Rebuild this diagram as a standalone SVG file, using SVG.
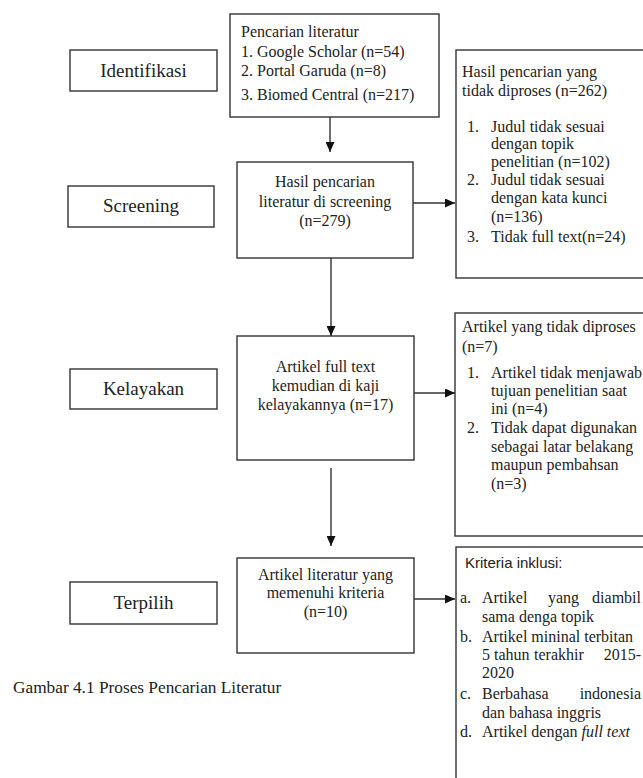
<svg xmlns="http://www.w3.org/2000/svg" width="643" height="778" viewBox="0 0 643 778">
<style>
.box{fill:#fff;stroke:#333;stroke-width:1.4}
.lbl{font-family:"Liberation Serif","Times New Roman",serif;font-size:19px;fill:#222;text-anchor:middle}
.t{font-family:"Liberation Serif","Times New Roman",serif;font-size:16px;fill:#222}
.c{text-anchor:middle}
.e{text-anchor:end}
.cap{font-family:"Liberation Serif","Times New Roman",serif;font-size:17.3px;fill:#222}
.sans{font-family:"Liberation Sans",Arial,sans-serif;font-size:15px;fill:#222}
.conn{stroke:#333;stroke-width:1.4;fill:none;marker-end:url(#ah)}
</style>
<defs>
<marker id="ah" markerUnits="userSpaceOnUse" markerWidth="10" markerHeight="9" refX="10" refY="4.5" orient="auto">
<path d="M0,0 L10,4.5 L0,9 z" fill="#111"/>
</marker>
</defs>
<rect width="643" height="778" fill="#fff"/>

<g id="label-identifikasi">
<rect class="box" x="70" y="50" width="147" height="41"/>
<text class="lbl" x="143.5" y="77">Identifikasi</text>
</g>
<g id="label-screening">
<rect class="box" x="68" y="186" width="146" height="41"/>
<text class="lbl" x="141" y="212">Screening</text>
</g>
<g id="label-kelayakan">
<rect class="box" x="70" y="369" width="147" height="40"/>
<text class="lbl" x="143.5" y="395">Kelayakan</text>
</g>
<g id="label-terpilih">
<rect class="box" x="70" y="582" width="147" height="42"/>
<text class="lbl" x="143.5" y="609">Terpilih</text>
</g>

<g id="search">
<rect class="box" x="230" y="14" width="209" height="103"/>
<text class="t" x="241" y="37">Pencarian literatur</text>
<text class="t" x="241" y="57">1. Google Scholar (n=54)</text>
<text class="t" x="241" y="76">2. Portal Garuda (n=8)</text>
<text class="t" x="241" y="100">3. Biomed Central (n=217)</text>
</g>

<g id="screening">
<rect class="box" x="237" y="162" width="176" height="96"/>
<text class="t c" x="325" y="187">Hasil pencarian</text>
<text class="t c" x="325" y="207">literatur di screening</text>
<text class="t c" x="325" y="226">(n=279)</text>
</g>

<g id="excluded-screening">
<rect class="box" x="456" y="50" width="195" height="228"/>
<text class="t" x="462" y="77">Hasil pencarian yang</text>
<text class="t" x="462" y="96">tidak diproses  (n=262)</text>
<text class="t" x="467" y="132">1.</text>
<text class="t" x="491" y="132">Judul tidak sesuai</text>
<text class="t" x="491" y="149">dengan topik</text>
<text class="t" x="491" y="167">penelitian (n=102)</text>
<text class="t" x="467" y="185">2.</text>
<text class="t" x="491" y="185">Judul tidak sesuai</text>
<text class="t" x="491" y="203">dengan kata kunci</text>
<text class="t" x="491" y="222">(n=136)</text>
<text class="t" x="467" y="242">3.</text>
<text class="t" x="491" y="242">Tidak full text(n=24)</text>
</g>

<g id="eligibility">
<rect class="box" x="237" y="336" width="177" height="124"/>
<text class="t c" x="325.5" y="372">Artikel full text</text>
<text class="t c" x="325.5" y="391">kemudian di kaji</text>
<text class="t c" x="325.5" y="410">kelayakannya (n=17)</text>
</g>

<g id="excluded-eligibility">
<rect class="box" x="455" y="313" width="195" height="223"/>
<text class="t" x="462" y="332">Artikel yang tidak diproses</text>
<text class="t" x="462" y="352">(n=7)</text>
<text class="t" x="467" y="378">1.</text>
<text class="t" x="491" y="378">Artikel tidak menjawab</text>
<text class="t" x="491" y="396">tujuan penelitian saat</text>
<text class="t" x="491" y="414">ini (n=4)</text>
<text class="t" x="467" y="433">2.</text>
<text class="t" x="491" y="433">Tidak dapat digunakan</text>
<text class="t" x="491" y="452">sebagai latar belakang</text>
<text class="t" x="491" y="470">maupun pembahsan</text>
<text class="t" x="491" y="489">(n=3)</text>
</g>

<g id="selected">
<rect class="box" x="237" y="558" width="177" height="95"/>
<text class="t c" x="325.5" y="580">Artikel literatur yang</text>
<text class="t c" x="325.5" y="598">memenuhi kriteria</text>
<text class="t c" x="325.5" y="617">(n=10)</text>
</g>

<g id="inclusion">
<rect class="box" x="456" y="547" width="195" height="240"/>
<text class="sans" x="465" y="568">Kriteria inklusi:</text>
<text class="t" x="460" y="603">a.</text>
<text class="t" x="482" y="603">Artikel</text>
<text class="t" x="548" y="603">yang</text>
<text class="t e" x="641" y="603">diambil</text>
<text class="t" x="482" y="622">sama denga  topik</text>
<text class="t" x="460" y="642">b.</text>
<text class="t" x="482" y="642">Artikel mininal terbitan</text>
<text class="t" x="482" y="660">5</text>
<text class="t" x="494" y="660">tahun</text>
<text class="t" x="534" y="660">terakhir</text>
<text class="t e" x="641" y="660">2015-</text>
<text class="t" x="482" y="678">2020</text>
<text class="t" x="460" y="699">c.</text>
<text class="t" x="482" y="699">Berbahasa</text>
<text class="t e" x="641" y="699">indonesia</text>
<text class="t" x="482" y="718">dan bahasa inggris</text>
<text class="t" x="460" y="737">d.</text>
<text class="t" x="482" y="737">Artikel dengan <tspan font-style="italic">full text</tspan></text>
</g>

<g id="caption">
<text class="cap" x="13" y="693">Gambar 4.1 Proses Pencarian Literatur</text>
</g>

<g id="connectors">
<line class="conn" x1="330" y1="117" x2="330" y2="152"/>
<line class="conn" x1="413" y1="203" x2="455" y2="203"/>
<line class="conn" x1="331" y1="258" x2="331" y2="336"/>
<line class="conn" x1="414" y1="393" x2="455" y2="393"/>
<line class="conn" x1="331" y1="468" x2="331" y2="546"/>
<line class="conn" x1="414" y1="599" x2="455" y2="599"/>
</g>
</svg>
